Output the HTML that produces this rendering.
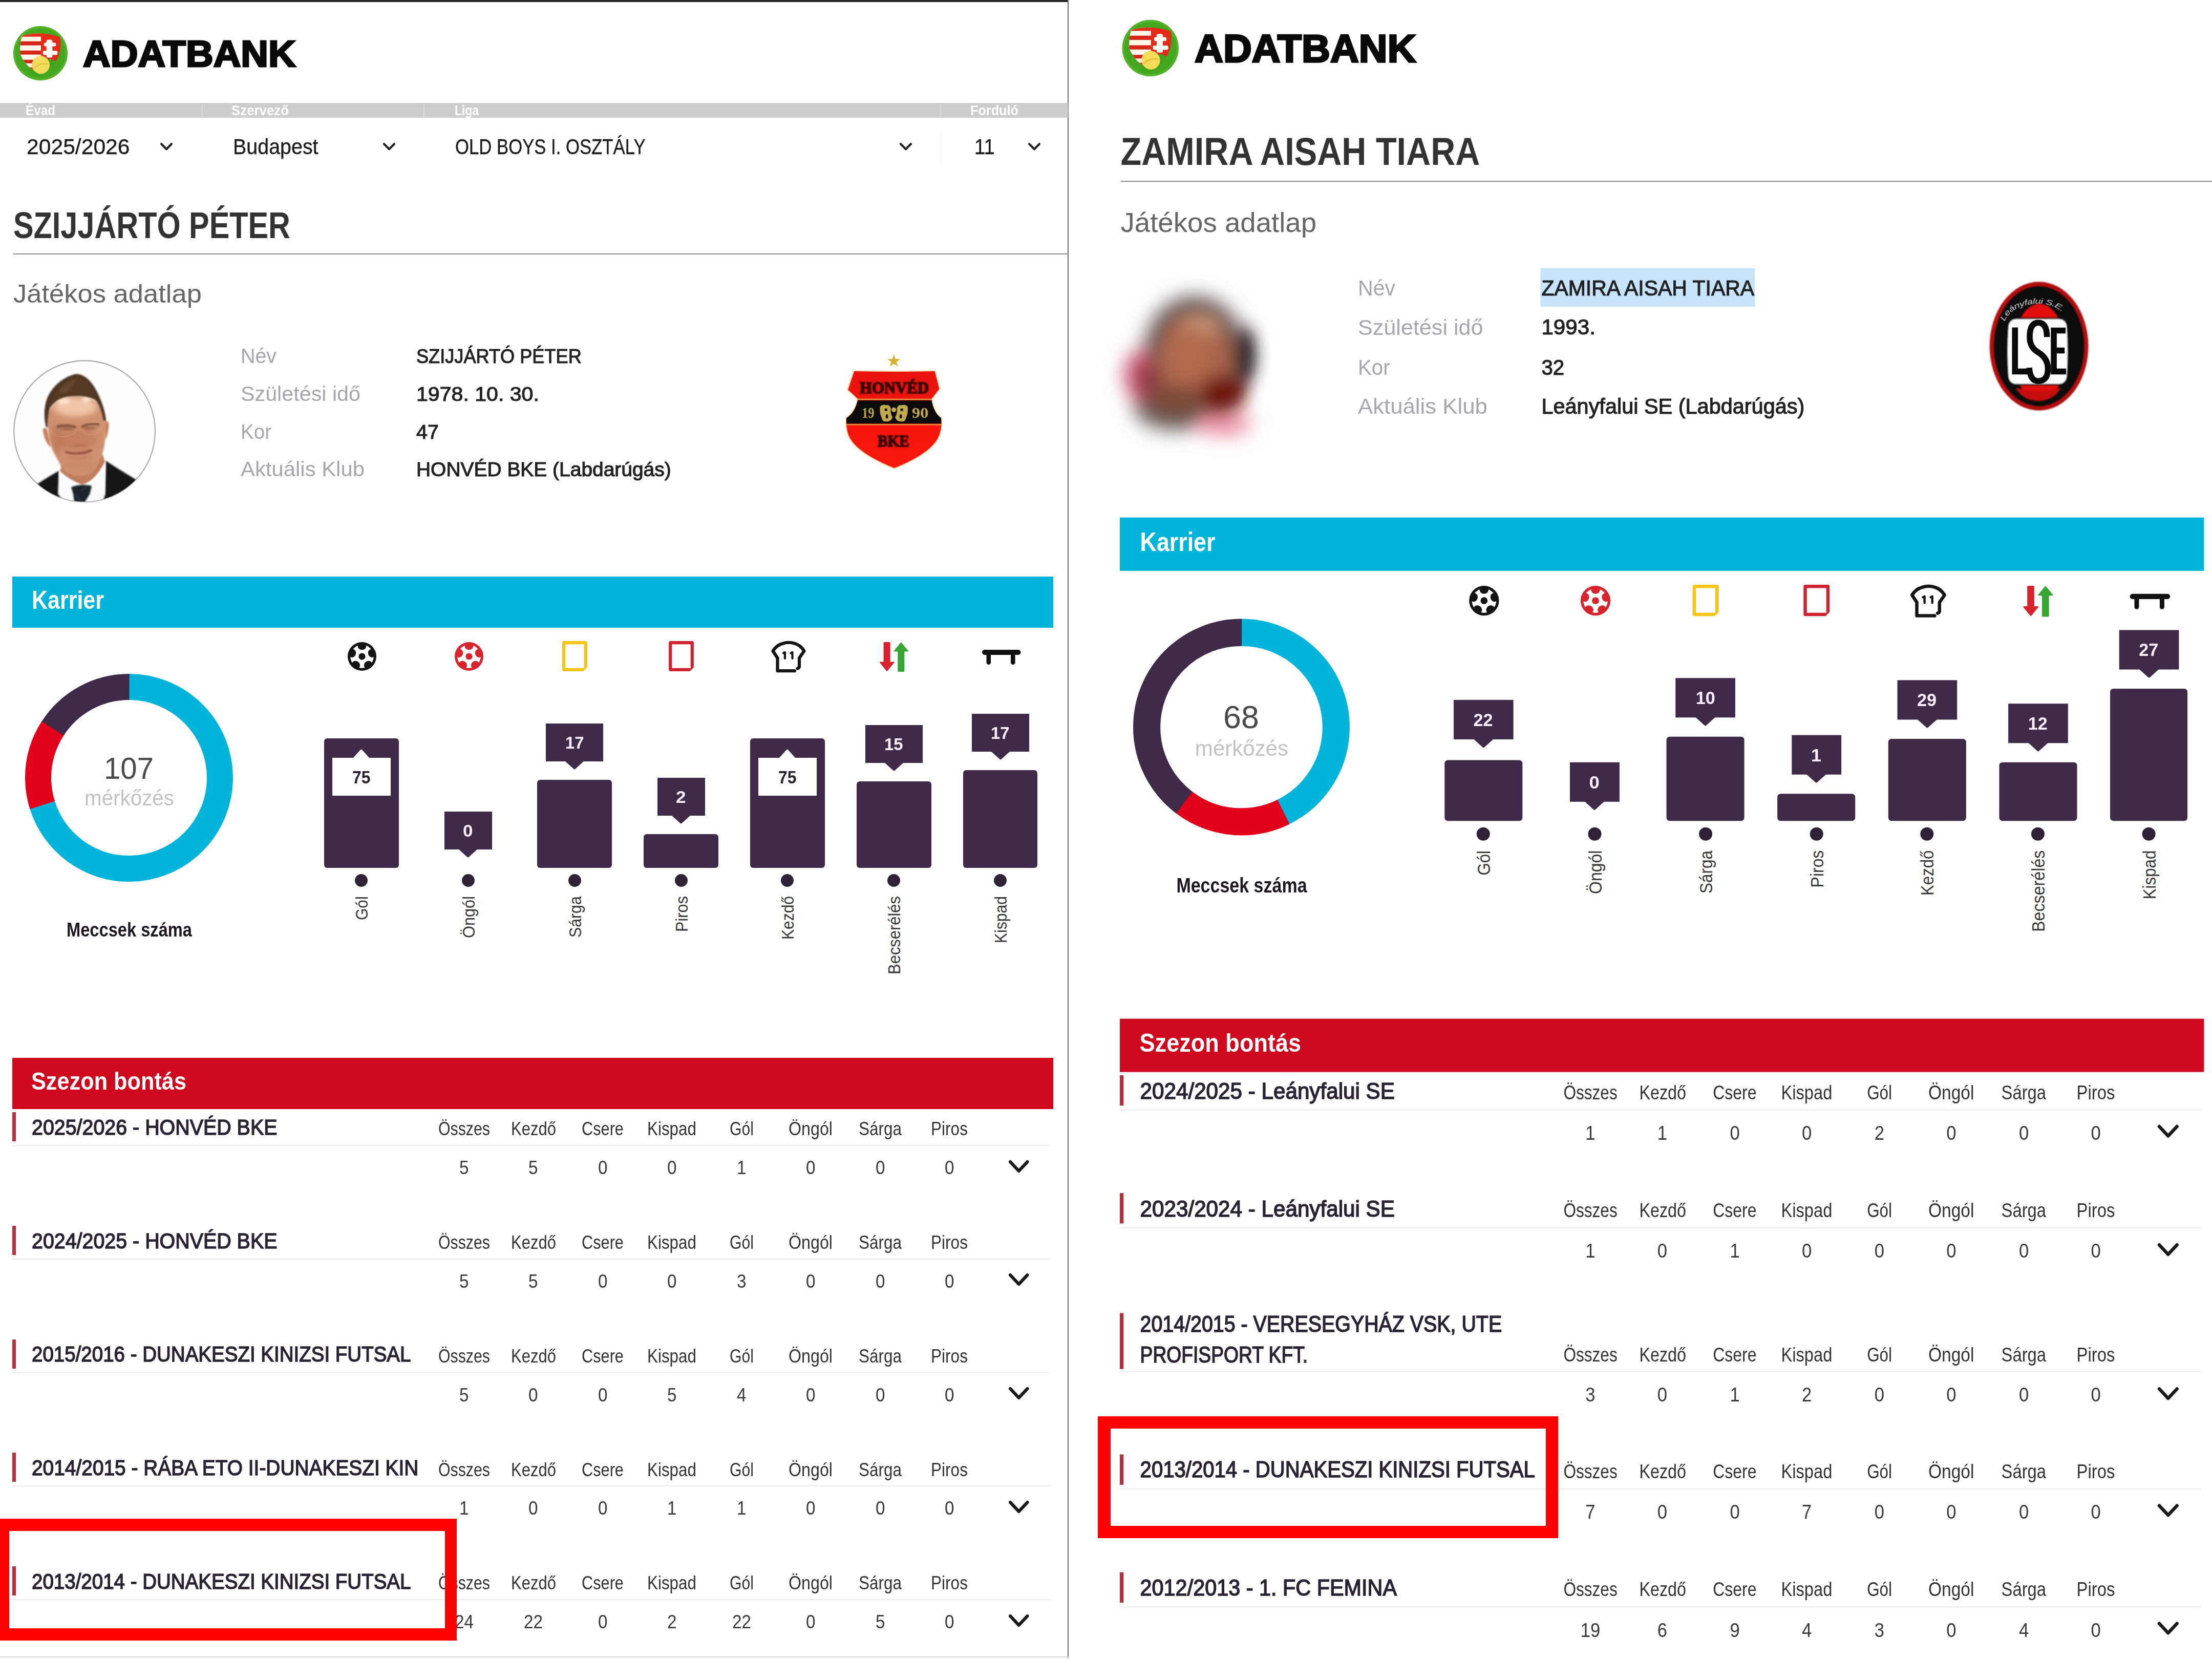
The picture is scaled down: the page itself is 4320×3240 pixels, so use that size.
<!DOCTYPE html>
<html><head><meta charset="utf-8"><title>Adatbank</title><style>
html,body{margin:0;padding:0;background:#fff}
body{width:4320px;height:3240px;position:relative;overflow:hidden;font-family:"Liberation Sans",sans-serif}
.t{position:absolute;white-space:nowrap;line-height:1;transform-origin:0 0;display:block}
.r{position:absolute}
.a{position:absolute;overflow:visible}
.g{position:absolute;left:0;top:0;width:4320px;height:3240px;transform-origin:0 0}
</style></head><body>
<div class="g" style="clip-path:inset(0 2233px 0 0)"><div class="r" style="left:0.00px;top:0.00px;width:2087.00px;height:3.50px;background:#262626;"></div><div class="r" style="left:2085.00px;top:0.00px;width:2.00px;height:3238.00px;background:#6a6a6a;"></div><div class="r" style="left:0.00px;top:3235.00px;width:2087.00px;height:2.00px;background:#d8d8d8;"></div><svg class="a" style="left:26.00px;top:50.50px" width="106.00" height="106.00" viewBox="0 0 100 100"><defs><clipPath id="mc79"><path d="M16,18 Q50,8 86,20 Q90,45 80,62 Q66,82 48,86 Q24,78 13,52 Q11,34 16,18 Z"/></clipPath></defs><circle cx="50" cy="50" r="50" fill="#44a720"/><circle cx="50" cy="50" r="47.5" fill="none" stroke="#63bf2c" stroke-width="3" opacity=".55"/><g clip-path="url(#mc79)"><rect x="0" y="0" width="100" height="100" fill="#e52a17"/><rect x="8" y="10" width="43" height="90" fill="#fff8ea"/><rect x="8" y="10" width="43" height="9.5" fill="#e52a17"/><rect x="8" y="28" width="43" height="7.5" fill="#d6261a"/><rect x="8" y="45" width="43" height="7.5" fill="#d6261a"/><rect x="8" y="62" width="43" height="6.5" fill="#d6261a"/><rect x="8" y="76" width="43" height="7" fill="#d6261a"/><rect x="61" y="25" width="11" height="33" rx="3" fill="#fffdf5"/><rect x="56.5" y="30.5" width="22" height="6.8" rx="2.5" fill="#fffdf5"/><rect x="54.5" y="45.5" width="27" height="7.5" rx="2.5" fill="#fffdf5"/><path d="M60,66 L68,60 L92,72 L92,100 L55,100 Z" fill="#3da41d"/></g><circle cx="50.5" cy="71.5" r="16.5" fill="#f3dc5a"/><path d="M38,78 Q50,66 64,70" stroke="#e2c23e" stroke-width="2.5" fill="none"/><path d="M27,80 Q40,96 58,92 Q46,90 36,80 Z" fill="#3da41d"/></svg><span class="t" style="left:161.60px;top:67.50px;font-size:73.11px;color:#0a0a0a;transform:scaleX(1.0170);font-weight:700;-webkit-text-stroke:3.20px #0a0a0a;">ADATBANK</span><div class="r" style="left:0.00px;top:201.00px;width:2086.00px;height:29.00px;background:#cdcdcd;"></div><div class="r" style="left:394.00px;top:203.00px;width:2.00px;height:27.00px;background:#dedede;"></div><div class="r" style="left:827.00px;top:203.00px;width:2.00px;height:27.00px;background:#dedede;"></div><div class="r" style="left:1836.00px;top:203.00px;width:2.00px;height:27.00px;background:#dedede;"></div><span class="t" style="left:50.00px;top:200.50px;font-size:28.34px;color:#fff;transform:scaleX(0.8561);font-weight:700;">Évad</span><span class="t" style="left:452.00px;top:200.50px;font-size:28.34px;color:#fff;transform:scaleX(0.9114);font-weight:700;">Szervező</span><span class="t" style="left:888.00px;top:200.50px;font-size:28.34px;color:#fff;transform:scaleX(0.8066);font-weight:700;">Liga</span><span class="t" style="left:1895.00px;top:200.50px;font-size:28.34px;color:#fff;transform:scaleX(0.8912);font-weight:700;">Forduló</span><span class="t" style="left:52.20px;top:265.37px;font-size:43.02px;color:#1c1c1c;transform:scaleX(0.9912);-webkit-text-stroke:0.40px #1c1c1c;">2025/2026</span><span class="t" style="left:455.20px;top:265.37px;font-size:43.02px;color:#1c1c1c;transform:scaleX(0.9164);-webkit-text-stroke:0.40px #1c1c1c;">Budapest</span><span class="t" style="left:889.20px;top:265.37px;font-size:43.02px;color:#1c1c1c;transform:scaleX(0.8067);-webkit-text-stroke:0.40px #1c1c1c;">OLD BOYS I. OSZTÁLY</span><span class="t" style="left:1903.20px;top:265.37px;font-size:43.02px;color:#1c1c1c;transform:scaleX(0.8866);-webkit-text-stroke:0.40px #1c1c1c;">11</span><svg class="a" style="left:313.00px;top:278.50px" width="24.00" height="14.50" viewBox="0 0 24.00 14.50"><path d="M2.15,2.15 L12.00,12.35 L21.85,2.15" fill="none" stroke="#222" stroke-width="4.30" stroke-linecap="round" stroke-linejoin="round"/></svg><svg class="a" style="left:748.00px;top:278.50px" width="24.00" height="14.50" viewBox="0 0 24.00 14.50"><path d="M2.15,2.15 L12.00,12.35 L21.85,2.15" fill="none" stroke="#222" stroke-width="4.30" stroke-linecap="round" stroke-linejoin="round"/></svg><svg class="a" style="left:1757.00px;top:278.50px" width="24.00" height="14.50" viewBox="0 0 24.00 14.50"><path d="M2.15,2.15 L12.00,12.35 L21.85,2.15" fill="none" stroke="#222" stroke-width="4.30" stroke-linecap="round" stroke-linejoin="round"/></svg><svg class="a" style="left:2008.00px;top:278.50px" width="24.00" height="14.50" viewBox="0 0 24.00 14.50"><path d="M2.15,2.15 L12.00,12.35 L21.85,2.15" fill="none" stroke="#222" stroke-width="4.30" stroke-linecap="round" stroke-linejoin="round"/></svg><div class="r" style="left:1837.00px;top:255.00px;width:1.50px;height:70.00px;background:#f6f6f6;"></div><div class="g" style="clip-path:inset(0 2234px 0 0)"><span class="t" style="left:26.00px;top:404.47px;font-size:72.68px;color:#333;transform:scaleX(0.8169);font-weight:700;">SZIJJÁRTÓ PÉTER</span><div class="r" style="left:26.00px;top:495.00px;width:4300.00px;height:2.00px;background:#8b8b95;"></div><span class="t" style="left:26.00px;top:549.33px;font-size:50.87px;color:#666;transform:scaleX(1.0326);">Játékos adatlap</span></div><svg class="a" style="left:10px;top:690px" width="310" height="310" viewBox="0 0 1659 1659"><defs><clipPath id="fc"><circle cx="830" cy="815" r="735"/></clipPath><filter id="fb" x="-20%" y="-20%" width="140%" height="140%"><feGaussianBlur stdDeviation="9"/></filter><filter id="fb2" x="-30%" y="-30%" width="160%" height="160%"><feGaussianBlur stdDeviation="28"/></filter><filter id="fb3" x="-30%" y="-30%" width="160%" height="160%"><feGaussianBlur stdDeviation="16"/></filter></defs><circle cx="830" cy="815" r="738" fill="#fefefe" stroke="#a6a6a6" stroke-width="11"/><g clip-path="url(#fc)"><path d="M555,1235 L640,1180 L1050,1120 L1060,1480 L1000,1600 L600,1600 Z" fill="#f7f9fb" filter="url(#fb)"/><path d="M330,1370 Q450,1290 562,1228 L552,1470 L640,1590 L300,1600 Z" fill="#131317" filter="url(#fb)"/><path d="M1052,1122 Q1200,1220 1370,1320 L1400,1600 L1000,1600 L1046,1480 Z" fill="#131317" filter="url(#fb)"/><path d="M600,1120 L1020,1060 L1045,1140 Q960,1330 800,1375 Q680,1330 575,1235 Z" fill="#bf7d5c" filter="url(#fb)"/><path d="M560,1232 Q660,1330 790,1372 L625,1500 L590,1480 Z" fill="#fbfcfd" filter="url(#fb)"/><path d="M1050,1125 Q960,1300 850,1368 L1040,1475 Z" fill="#fbfcfd" filter="url(#fb)"/><path d="M690,1398 Q790,1360 905,1385 L885,1470 L820,1575 L725,1575 L712,1470 Z" fill="#1a202a" filter="url(#fb)"/><path d="M735,1470 L800,1560 M790,1440 L850,1400" stroke="#2e3d4c" stroke-width="14" filter="url(#fb)"/><path d="M392,800 Q400,770 440,790 L480,980 Q440,960 410,880 Z" fill="#c98260" filter="url(#fb)"/><path d="M1035,720 Q1080,690 1085,740 Q1080,860 1040,910 Z" fill="#c98260" filter="url(#fb)"/><path d="M440,720 Q440,470 740,445 Q1030,450 1052,720 L1040,950 Q1010,1130 905,1255 Q780,1320 625,1235 Q520,1090 462,905 Z" fill="#cf9170" filter="url(#fb)"/><ellipse cx="735" cy="560" rx="230" ry="100" fill="#f0c4a6" filter="url(#fb2)"/><ellipse cx="610" cy="500" rx="70" ry="35" fill="#fde3cf" filter="url(#fb3)"/><ellipse cx="850" cy="480" rx="50" ry="35" fill="#fde3cf" filter="url(#fb3)"/><ellipse cx="760" cy="900" rx="200" ry="120" fill="#c27a5a" filter="url(#fb2)" opacity=".75"/><ellipse cx="770" cy="1160" rx="170" ry="80" fill="#c98a68" filter="url(#fb2)" opacity=".8"/><ellipse cx="545" cy="900" rx="60" ry="160" fill="#b86f50" filter="url(#fb2)" opacity=".6"/><path d="M428,775 C395,640 410,500 470,410 C530,310 630,240 740,215 C830,215 905,290 960,400 C1010,500 1045,600 1055,705 L1030,705 C1005,580 975,510 925,475 C830,435 730,440 640,452 C560,465 500,520 472,565 C448,640 445,700 445,770 Z" fill="#4d3424" filter="url(#fb)"/><path d="M470,520 C520,380 620,290 740,245 C830,250 900,330 945,420 C965,470 950,480 925,472 C830,432 730,438 640,450 C560,462 505,510 470,560 Z" fill="#553a28" filter="url(#fb)"/><path d="M560,400 Q650,290 760,260 Q700,330 640,420 Z" fill="#6e4c36" filter="url(#fb3)" opacity=".8"/><path d="M540,770 Q640,735 740,775 M800,770 Q880,725 985,745" stroke="#6a4030" stroke-width="26" fill="none" filter="url(#fb)" opacity=".75"/><path d="M590,800 Q650,780 705,800 M835,790 Q890,765 945,780" stroke="#5a3528" stroke-width="22" fill="none" filter="url(#fb3)" opacity=".7"/><path d="M470,800 Q500,880 620,870 Q720,860 745,800 Q780,790 800,800 Q830,860 920,850 Q1000,830 1010,760" stroke="#e8c0a8" stroke-width="7" fill="none" opacity=".3"/><path d="M700,960 Q770,985 840,950" stroke="#a86048" stroke-width="20" fill="none" filter="url(#fb3)" opacity=".7"/><path d="M630,1030 Q770,1075 905,1010" stroke="#8f4a3e" stroke-width="26" fill="none" filter="url(#fb)" opacity=".85"/><path d="M660,1085 Q770,1120 880,1070" stroke="#b87058" stroke-width="22" fill="none" filter="url(#fb3)" opacity=".6"/></g></svg><span class="t" style="left:470.00px;top:676.16px;font-size:39.97px;color:#a6a6ae;transform:scaleX(0.9848);">Név</span><span class="t" style="left:470.00px;top:749.66px;font-size:39.97px;color:#a6a6ae;transform:scaleX(1.0325);">Születési idő</span><span class="t" style="left:470.00px;top:824.16px;font-size:39.97px;color:#a6a6ae;transform:scaleX(0.9645);">Kor</span><span class="t" style="left:470.00px;top:897.16px;font-size:39.97px;color:#a6a6ae;transform:scaleX(1.0473);">Aktuális Klub</span><span class="t" style="left:813.05px;top:677.46px;font-size:38.37px;color:#222;transform:scaleX(0.9426);-webkit-text-stroke:1.10px #222;">SZIJJÁRTÓ PÉTER</span><span class="t" style="left:813.05px;top:750.96px;font-size:38.37px;color:#222;transform:scaleX(1.0708);-webkit-text-stroke:1.10px #222;">1978. 10. 30.</span><span class="t" style="left:813.05px;top:825.46px;font-size:38.37px;color:#222;transform:scaleX(1.0285);-webkit-text-stroke:1.10px #222;">47</span><span class="t" style="left:813.05px;top:898.46px;font-size:38.37px;color:#222;transform:scaleX(1.0150);-webkit-text-stroke:1.10px #222;">HONVÉD BKE (Labdarúgás)</span><svg class="a" style="left:1600px;top:670px" width="300" height="270" viewBox="0 0 1843 1659"><defs><clipPath id="hs"><path d="M420,338 Q900,350 1385,338 L1440,550 L1345,672 Q1372,840 1462,900 Q1475,1000 1440,1100 Q1370,1310 900,1500 Q430,1310 350,1100 Q318,1000 325,900 Q430,840 465,672 L345,560 Z"/></clipPath><filter id="hb" x="-10%" y="-10%" width="120%" height="120%"><feGaussianBlur stdDeviation="5"/></filter><linearGradient id="hg" x1="0" y1="0" x2="0" y2="1"><stop offset="0" stop-color="#e81410"/><stop offset=".5" stop-color="#f5130c"/><stop offset="1" stop-color="#fa1a10"/></linearGradient></defs><polygon points="895,135 915,190 972,192 927,227 943,282 895,250 847,282 863,227 818,192 875,190" fill="#d6b433"/><path d="M420,338 Q900,350 1385,338 L1440,550 L1345,672 Q1372,840 1462,900 Q1475,1000 1440,1100 Q1370,1310 900,1500 Q430,1310 350,1100 Q318,1000 325,900 Q430,840 465,672 L345,560 Z" fill="#f7a23a" stroke="#f9b85a" stroke-width="16" opacity=".85" filter="url(#hb)"/><g clip-path="url(#hs)"><rect x="300" y="320" width="1200" height="1200" fill="url(#hg)"/><rect x="300" y="690" width="1200" height="275" fill="#0d0b0b"/><rect x="300" y="668" width="1200" height="14" fill="#e9a24a"/><rect x="300" y="682" width="1200" height="10" fill="#8a1a10"/><rect x="300" y="972" width="1200" height="14" fill="#e9a24a"/><rect x="300" y="962" width="1200" height="10" fill="#8a1a10"/></g><g filter="url(#hb)"><text x="900" y="600" text-anchor="middle" font-family="Liberation Serif" font-weight="700" font-size="196" fill="#2a0707" stroke="#2a0707" stroke-width="10" textLength="830" lengthAdjust="spacingAndGlyphs">HONVÉD</text><text x="890" y="1240" text-anchor="middle" font-family="Liberation Serif" font-weight="700" font-size="196" fill="#2a0707" stroke="#2a0707" stroke-width="10" textLength="380" lengthAdjust="spacingAndGlyphs">BKE</text></g><text x="585" y="900" text-anchor="middle" font-family="Liberation Serif" font-weight="700" font-size="175" fill="#b9a446" textLength="150" lengthAdjust="spacingAndGlyphs">19</text><text x="1210" y="900" text-anchor="middle" font-family="Liberation Serif" font-weight="700" font-size="175" fill="#b9a446" textLength="200" lengthAdjust="spacingAndGlyphs">90</text><g fill="#bfa94a"><path d="M730,760 Q760,730 800,745 Q850,735 860,790 Q850,850 880,890 Q860,950 800,940 Q760,950 750,900 Q720,840 730,760 Z"/><path d="M1060,760 Q1030,730 990,745 Q940,735 930,790 Q940,850 910,890 Q930,950 990,940 Q1030,950 1040,900 Q1070,840 1060,760 Z"/><circle cx="895" cy="800" r="28"/></g><g fill="#0d0b0b"><circle cx="800" cy="800" r="16"/><circle cx="990" cy="800" r="16"/><ellipse cx="812" cy="880" rx="14" ry="26"/><ellipse cx="978" cy="880" rx="14" ry="26"/></g></svg><div class="r" style="left:24.00px;top:1126.00px;width:2033.00px;height:100.00px;background:#00b5d9;"></div><span class="t" style="left:62.00px;top:1147.04px;font-size:50.15px;color:#fff;transform:scaleX(0.8573);font-weight:700;">Karrier</span><svg class="a" style="left:679.00px;top:1254.00px" width="56.00" height="56.00" viewBox="-28 -28 56 56"><circle r="28" fill="#141414"/><circle r="22.8" fill="#fff"/><ellipse cx="-11.93" cy="16.42" rx="8.3" ry="7.4" transform="rotate(216.0 -11.93 16.42)" fill="#141414"/><ellipse cx="-19.31" cy="-6.27" rx="8.3" ry="7.4" transform="rotate(288.0 -19.31 -6.27)" fill="#141414"/><ellipse cx="-0.00" cy="-20.30" rx="8.3" ry="7.4" transform="rotate(360.0 -0.00 -20.30)" fill="#141414"/><ellipse cx="19.31" cy="-6.27" rx="8.3" ry="7.4" transform="rotate(432.0 19.31 -6.27)" fill="#141414"/><ellipse cx="11.93" cy="16.42" rx="8.3" ry="7.4" transform="rotate(504.0 11.93 16.42)" fill="#141414"/><circle r="6.6" fill="#141414"/></svg><svg class="a" style="left:888.00px;top:1254.00px" width="56.00" height="56.00" viewBox="-28 -28 56 56"><circle r="28" fill="#d9232d"/><circle r="22.8" fill="#fff"/><ellipse cx="-11.93" cy="16.42" rx="8.3" ry="7.4" transform="rotate(216.0 -11.93 16.42)" fill="#d9232d"/><ellipse cx="-19.31" cy="-6.27" rx="8.3" ry="7.4" transform="rotate(288.0 -19.31 -6.27)" fill="#d9232d"/><ellipse cx="-0.00" cy="-20.30" rx="8.3" ry="7.4" transform="rotate(360.0 -0.00 -20.30)" fill="#d9232d"/><ellipse cx="19.31" cy="-6.27" rx="8.3" ry="7.4" transform="rotate(432.0 19.31 -6.27)" fill="#d9232d"/><ellipse cx="11.93" cy="16.42" rx="8.3" ry="7.4" transform="rotate(504.0 11.93 16.42)" fill="#d9232d"/><circle r="6.6" fill="#d9232d"/></svg><svg class="a" style="left:1098.00px;top:1252.00px" width="49" height="59" viewBox="0 0 49 59"><path d="M3.2,3.2 H45.8 V50 M40,55.8 H3.2 V3.2" fill="none" stroke="#f6c414" stroke-width="6.2" stroke-linejoin="round" stroke-linecap="round"/><path d="M45.8,48 V52 L42,55.8 H38" fill="none" stroke="#f6c414" stroke-width="3.5" stroke-linecap="round" stroke-linejoin="round"/></svg><svg class="a" style="left:1305.50px;top:1252.00px" width="49" height="59" viewBox="0 0 49 59"><path d="M3.2,3.2 H45.8 V50 M40,55.8 H3.2 V3.2" fill="none" stroke="#d3222f" stroke-width="6.2" stroke-linejoin="round" stroke-linecap="round"/><path d="M45.8,48 V52 L42,55.8 H38" fill="none" stroke="#d3222f" stroke-width="3.5" stroke-linecap="round" stroke-linejoin="round"/></svg><svg class="a" style="left:1506.00px;top:1252.00px" width="68" height="62" viewBox="0 0 68 62"><path d="M12.5,58 V33 L3.5,19.5 Q10,8.5 22,5 Q34.5,0.5 47,5 Q58,8.5 64.5,19.5 L55,33 V49 Q55,52.5 51.5,53.5 M12.5,58.2 H46" fill="none" stroke="#151515" stroke-width="6.2" stroke-linejoin="round" stroke-linecap="round"/><path d="M24,23.5 L27,22 V34 M38.5,23.5 L41.5,22 V34" fill="none" stroke="#151515" stroke-width="4.2" stroke-linecap="round" stroke-linejoin="round"/></svg><svg class="a" style="left:1717.60px;top:1254.00px" width="56" height="58" viewBox="0 0 56 58"><path d="M7.6,1.5 Q7.6,0 9.1,0 H19.1 Q20.6,0 20.6,1.5 V38.5 H27.2 Q29.5,38.5 28,40.5 L15.4,56 Q14.2,57.4 13,56 L0.5,40.5 Q-1,38.5 1.3,38.5 H7.6 Z" fill="#d9202b"/><path d="M35.3,56.5 Q35.3,58 36.8,58 H46.8 Q48.3,58 48.3,56.5 V18.5 H54.5 Q56.8,18.5 55.3,16.6 L43,1.5 Q41.8,0 40.6,1.5 L28.3,16.6 Q26.8,18.5 29.1,18.5 H35.3 Z" fill="#36a632"/></svg><svg class="a" style="left:1917.80px;top:1268.50px" width="76" height="30" viewBox="0 0 76 30"><rect x="0" y="0" width="75.5" height="10" rx="5" fill="#111"/><rect x="8.5" y="3" width="8.6" height="26" rx="4.3" fill="#111"/><rect x="56" y="3" width="8.6" height="26" rx="4.3" fill="#111"/></svg><svg class="a" style="left:42.00px;top:1309.00px" width="420" height="420" viewBox="-210 -210 420 420"><g transform="rotate(-90)"><circle r="177.50" fill="none" stroke="#00b5d9" stroke-width="51" stroke-dasharray="782.328 332.937" stroke-dashoffset="0.000"/><circle r="177.50" fill="none" stroke="#e2001a" stroke-width="51" stroke-dasharray="156.946 958.320" stroke-dashoffset="-781.728"/><circle r="177.50" fill="none" stroke="#3f2a4a" stroke-width="51" stroke-dasharray="177.792 937.474" stroke-dashoffset="-938.074"/></g></svg><span class="t" style="left:202.50px;top:1470.54px;font-size:59.59px;color:#4a4a4a;transform:scaleX(0.9755);">107</span><span class="t" style="left:164.50px;top:1537.68px;font-size:41.72px;color:#c2c2c2;transform:scaleX(0.9678);">mérkőzés</span><span class="t" style="left:129.50px;top:1796.89px;font-size:38.52px;color:#1e1622;transform:scaleX(0.8475);font-weight:700;">Meccsek száma</span><div class="r" style="left:633.00px;top:1442.00px;width:145.50px;height:253.00px;background:#3f2a4a;border-radius:6px;"></div><div class="r" style="left:648.70px;top:1480.00px;width:114.00px;height:74.00px;background:#fff;"></div><svg class="a" style="left:689.20px;top:1463.00px" width="33" height="18" viewBox="0 0 33 18"><path d="M0,18 H33 L18,1.3 Q16.5,0 15,1.3 Z" fill="#fff"/></svg><span class="t" style="left:687.95px;top:1501.21px;font-size:34.59px;color:#2a2030;transform:scaleX(0.9226);font-weight:700;">75</span><div class="r" style="left:693.20px;top:1706.80px;width:25px;height:25px;border-radius:50%;background:#2f2136"></div><span class="t" style="left:718.20px;top:1768.56px;font-size:32.99px;color:#383838;transform-origin:0 27.94px;transform:rotate(-90deg) scaleX(0.9056);">Gól</span><div class="r" style="left:867.50px;top:1585.00px;width:93.00px;height:74.00px;background:#3f2a4a;"></div><svg class="a" style="left:895.00px;top:1658.00px" width="38" height="17" viewBox="0 0 38 17"><path d="M0,0 H38 L20.5,15.8 Q19,17 17.5,15.8 Z" fill="#3f2a4a"/></svg><span class="t" style="left:904.25px;top:1606.19px;font-size:33.43px;color:#fbeefd;transform:scaleX(1.0488);font-weight:700;">0</span><div class="r" style="left:901.50px;top:1706.80px;width:25px;height:25px;border-radius:50%;background:#2f2136"></div><span class="t" style="left:926.50px;top:1804.06px;font-size:32.99px;color:#383838;transform-origin:0 27.94px;transform:rotate(-90deg) scaleX(0.9313);">Öngól</span><div class="r" style="left:1049.30px;top:1522.50px;width:145.50px;height:172.50px;background:#3f2a4a;border-radius:6px;"></div><div class="r" style="left:1066.00px;top:1412.50px;width:112.00px;height:74.00px;background:#3f2a4a;"></div><svg class="a" style="left:1103.00px;top:1485.50px" width="38" height="17" viewBox="0 0 38 17"><path d="M0,0 H38 L20.5,15.8 Q19,17 17.5,15.8 Z" fill="#3f2a4a"/></svg><span class="t" style="left:1103.75px;top:1433.69px;font-size:33.43px;color:#fbeefd;transform:scaleX(0.9815);font-weight:700;">17</span><div class="r" style="left:1109.50px;top:1706.80px;width:25px;height:25px;border-radius:50%;background:#2f2136"></div><span class="t" style="left:1134.50px;top:1802.76px;font-size:32.99px;color:#383838;transform-origin:0 27.94px;transform:rotate(-90deg) scaleX(0.9165);">Sárga</span><div class="r" style="left:1257.30px;top:1629.00px;width:145.50px;height:66.00px;background:#3f2a4a;border-radius:6px;"></div><div class="r" style="left:1283.50px;top:1519.00px;width:93.00px;height:74.00px;background:#3f2a4a;"></div><svg class="a" style="left:1311.00px;top:1592.00px" width="38" height="17" viewBox="0 0 38 17"><path d="M0,0 H38 L20.5,15.8 Q19,17 17.5,15.8 Z" fill="#3f2a4a"/></svg><span class="t" style="left:1320.25px;top:1540.19px;font-size:33.43px;color:#fbeefd;transform:scaleX(1.0488);font-weight:700;">2</span><div class="r" style="left:1317.50px;top:1706.80px;width:25px;height:25px;border-radius:50%;background:#2f2136"></div><span class="t" style="left:1342.50px;top:1792.06px;font-size:32.99px;color:#383838;transform-origin:0 27.94px;transform:rotate(-90deg) scaleX(0.9311);">Piros</span><div class="r" style="left:1465.00px;top:1442.00px;width:145.50px;height:253.00px;background:#3f2a4a;border-radius:6px;"></div><div class="r" style="left:1480.70px;top:1480.00px;width:114.00px;height:74.00px;background:#fff;"></div><svg class="a" style="left:1521.20px;top:1463.00px" width="33" height="18" viewBox="0 0 33 18"><path d="M0,18 H33 L18,1.3 Q16.5,0 15,1.3 Z" fill="#fff"/></svg><span class="t" style="left:1519.95px;top:1501.21px;font-size:34.59px;color:#2a2030;transform:scaleX(0.9226);font-weight:700;">75</span><div class="r" style="left:1525.20px;top:1706.80px;width:25px;height:25px;border-radius:50%;background:#2f2136"></div><span class="t" style="left:1550.20px;top:1807.06px;font-size:32.99px;color:#383838;transform-origin:0 27.94px;transform:rotate(-90deg) scaleX(0.9085);">Kezdő</span><div class="r" style="left:1673.00px;top:1526.00px;width:145.50px;height:169.00px;background:#3f2a4a;border-radius:6px;"></div><div class="r" style="left:1689.70px;top:1416.00px;width:112.00px;height:74.00px;background:#3f2a4a;"></div><svg class="a" style="left:1726.70px;top:1489.00px" width="38" height="17" viewBox="0 0 38 17"><path d="M0,0 H38 L20.5,15.8 Q19,17 17.5,15.8 Z" fill="#3f2a4a"/></svg><span class="t" style="left:1727.45px;top:1437.19px;font-size:33.43px;color:#fbeefd;transform:scaleX(0.9815);font-weight:700;">15</span><div class="r" style="left:1733.20px;top:1706.80px;width:25px;height:25px;border-radius:50%;background:#2f2136"></div><span class="t" style="left:1758.20px;top:1875.06px;font-size:32.99px;color:#383838;transform-origin:0 27.94px;transform:rotate(-90deg) scaleX(0.9374);">Becserélés</span><div class="r" style="left:1880.80px;top:1504.00px;width:145.50px;height:191.00px;background:#3f2a4a;border-radius:6px;"></div><div class="r" style="left:1897.50px;top:1394.00px;width:112.00px;height:74.00px;background:#3f2a4a;"></div><svg class="a" style="left:1934.50px;top:1467.00px" width="38" height="17" viewBox="0 0 38 17"><path d="M0,0 H38 L20.5,15.8 Q19,17 17.5,15.8 Z" fill="#3f2a4a"/></svg><span class="t" style="left:1935.25px;top:1415.19px;font-size:33.43px;color:#fbeefd;transform:scaleX(0.9815);font-weight:700;">17</span><div class="r" style="left:1941.00px;top:1706.80px;width:25px;height:25px;border-radius:50%;background:#2f2136"></div><span class="t" style="left:1966.00px;top:1814.06px;font-size:32.99px;color:#383838;transform-origin:0 27.94px;transform:rotate(-90deg) scaleX(0.9119);">Kispad</span><div class="r" style="left:24.00px;top:2066.00px;width:2033.00px;height:100.00px;background:#cf0a1f;"></div><span class="t" style="left:61.00px;top:2087.89px;font-size:47.97px;color:#fff;transform:scaleX(0.9023);font-weight:700;">Szezon bontás</span><div class="r" style="left:24.00px;top:2172.00px;width:6.50px;height:57.00px;background:#b7303c;"></div><span class="t" style="left:61.75px;top:2179.94px;font-size:42.88px;color:#2b2233;transform:scaleX(0.9186);-webkit-text-stroke:1.50px #2b2233;">2025/2026 - HONVÉD BKE</span><span class="t" style="left:855.50px;top:2186.42px;font-size:37.06px;color:#333;transform:scaleX(0.8173);">Összes</span><span class="t" style="left:997.50px;top:2186.42px;font-size:37.06px;color:#333;transform:scaleX(0.8373);">Kezdő</span><span class="t" style="left:1136.00px;top:2186.42px;font-size:37.06px;color:#333;transform:scaleX(0.8293);">Csere</span><span class="t" style="left:1264.00px;top:2186.42px;font-size:37.06px;color:#333;transform:scaleX(0.8471);">Kispad</span><span class="t" style="left:1424.50px;top:2186.42px;font-size:37.06px;color:#333;transform:scaleX(0.8149);">Gól</span><span class="t" style="left:1540.00px;top:2186.42px;font-size:37.06px;color:#333;transform:scaleX(0.8695);">Öngól</span><span class="t" style="left:1677.00px;top:2186.42px;font-size:37.06px;color:#333;transform:scaleX(0.8493);">Sárga</span><span class="t" style="left:1818.00px;top:2186.42px;font-size:37.06px;color:#333;transform:scaleX(0.8526);">Piros</span><div class="r" style="left:24.00px;top:2236.00px;width:2027.00px;height:2.00px;background:#ececee;"></div><span class="t" style="left:896.75px;top:2262.00px;font-size:37.79px;color:#3a3a3a;transform:scaleX(0.8800);">5</span><span class="t" style="left:1032.25px;top:2262.00px;font-size:37.79px;color:#3a3a3a;transform:scaleX(0.8800);">5</span><span class="t" style="left:1167.75px;top:2262.00px;font-size:37.79px;color:#3a3a3a;transform:scaleX(0.8800);">0</span><span class="t" style="left:1302.75px;top:2262.00px;font-size:37.79px;color:#3a3a3a;transform:scaleX(0.8800);">0</span><span class="t" style="left:1438.75px;top:2262.00px;font-size:37.79px;color:#3a3a3a;transform:scaleX(0.8800);">1</span><span class="t" style="left:1573.75px;top:2262.00px;font-size:37.79px;color:#3a3a3a;transform:scaleX(0.8800);">0</span><span class="t" style="left:1709.75px;top:2262.00px;font-size:37.79px;color:#3a3a3a;transform:scaleX(0.8800);">0</span><span class="t" style="left:1844.75px;top:2262.00px;font-size:37.79px;color:#3a3a3a;transform:scaleX(0.8800);">0</span><svg class="a" style="left:1970.00px;top:2265.50px" width="39.50" height="24.00" viewBox="0 0 39.50 24.00"><path d="M3.10,3.10 L19.75,20.90 L36.40,3.10" fill="none" stroke="#1a1a1a" stroke-width="6.20" stroke-linecap="round" stroke-linejoin="round"/></svg><div class="r" style="left:24.00px;top:2393.80px;width:6.50px;height:57.00px;background:#b7303c;"></div><span class="t" style="left:61.75px;top:2401.74px;font-size:42.88px;color:#2b2233;transform:scaleX(0.9186);-webkit-text-stroke:1.50px #2b2233;">2024/2025 - HONVÉD BKE</span><span class="t" style="left:855.50px;top:2408.22px;font-size:37.06px;color:#333;transform:scaleX(0.8173);">Összes</span><span class="t" style="left:997.50px;top:2408.22px;font-size:37.06px;color:#333;transform:scaleX(0.8373);">Kezdő</span><span class="t" style="left:1136.00px;top:2408.22px;font-size:37.06px;color:#333;transform:scaleX(0.8293);">Csere</span><span class="t" style="left:1264.00px;top:2408.22px;font-size:37.06px;color:#333;transform:scaleX(0.8471);">Kispad</span><span class="t" style="left:1424.50px;top:2408.22px;font-size:37.06px;color:#333;transform:scaleX(0.8149);">Gól</span><span class="t" style="left:1540.00px;top:2408.22px;font-size:37.06px;color:#333;transform:scaleX(0.8695);">Öngól</span><span class="t" style="left:1677.00px;top:2408.22px;font-size:37.06px;color:#333;transform:scaleX(0.8493);">Sárga</span><span class="t" style="left:1818.00px;top:2408.22px;font-size:37.06px;color:#333;transform:scaleX(0.8526);">Piros</span><div class="r" style="left:24.00px;top:2457.80px;width:2027.00px;height:2.00px;background:#ececee;"></div><span class="t" style="left:896.75px;top:2483.80px;font-size:37.79px;color:#3a3a3a;transform:scaleX(0.8800);">5</span><span class="t" style="left:1032.25px;top:2483.80px;font-size:37.79px;color:#3a3a3a;transform:scaleX(0.8800);">5</span><span class="t" style="left:1167.75px;top:2483.80px;font-size:37.79px;color:#3a3a3a;transform:scaleX(0.8800);">0</span><span class="t" style="left:1302.75px;top:2483.80px;font-size:37.79px;color:#3a3a3a;transform:scaleX(0.8800);">0</span><span class="t" style="left:1438.75px;top:2483.80px;font-size:37.79px;color:#3a3a3a;transform:scaleX(0.8800);">3</span><span class="t" style="left:1573.75px;top:2483.80px;font-size:37.79px;color:#3a3a3a;transform:scaleX(0.8800);">0</span><span class="t" style="left:1709.75px;top:2483.80px;font-size:37.79px;color:#3a3a3a;transform:scaleX(0.8800);">0</span><span class="t" style="left:1844.75px;top:2483.80px;font-size:37.79px;color:#3a3a3a;transform:scaleX(0.8800);">0</span><svg class="a" style="left:1970.00px;top:2487.30px" width="39.50" height="24.00" viewBox="0 0 39.50 24.00"><path d="M3.10,3.10 L19.75,20.90 L36.40,3.10" fill="none" stroke="#1a1a1a" stroke-width="6.20" stroke-linecap="round" stroke-linejoin="round"/></svg><div class="r" style="left:24.00px;top:2615.50px;width:6.50px;height:57.00px;background:#b7303c;"></div><span class="t" style="left:61.75px;top:2623.44px;font-size:42.88px;color:#2b2233;transform:scaleX(0.8981);-webkit-text-stroke:1.50px #2b2233;">2015/2016 - DUNAKESZI KINIZSI FUTSAL</span><span class="t" style="left:855.50px;top:2629.92px;font-size:37.06px;color:#333;transform:scaleX(0.8173);">Összes</span><span class="t" style="left:997.50px;top:2629.92px;font-size:37.06px;color:#333;transform:scaleX(0.8373);">Kezdő</span><span class="t" style="left:1136.00px;top:2629.92px;font-size:37.06px;color:#333;transform:scaleX(0.8293);">Csere</span><span class="t" style="left:1264.00px;top:2629.92px;font-size:37.06px;color:#333;transform:scaleX(0.8471);">Kispad</span><span class="t" style="left:1424.50px;top:2629.92px;font-size:37.06px;color:#333;transform:scaleX(0.8149);">Gól</span><span class="t" style="left:1540.00px;top:2629.92px;font-size:37.06px;color:#333;transform:scaleX(0.8695);">Öngól</span><span class="t" style="left:1677.00px;top:2629.92px;font-size:37.06px;color:#333;transform:scaleX(0.8493);">Sárga</span><span class="t" style="left:1818.00px;top:2629.92px;font-size:37.06px;color:#333;transform:scaleX(0.8526);">Piros</span><div class="r" style="left:24.00px;top:2679.50px;width:2027.00px;height:2.00px;background:#ececee;"></div><span class="t" style="left:896.75px;top:2705.50px;font-size:37.79px;color:#3a3a3a;transform:scaleX(0.8800);">5</span><span class="t" style="left:1032.25px;top:2705.50px;font-size:37.79px;color:#3a3a3a;transform:scaleX(0.8800);">0</span><span class="t" style="left:1167.75px;top:2705.50px;font-size:37.79px;color:#3a3a3a;transform:scaleX(0.8800);">0</span><span class="t" style="left:1302.75px;top:2705.50px;font-size:37.79px;color:#3a3a3a;transform:scaleX(0.8800);">5</span><span class="t" style="left:1438.75px;top:2705.50px;font-size:37.79px;color:#3a3a3a;transform:scaleX(0.8800);">4</span><span class="t" style="left:1573.75px;top:2705.50px;font-size:37.79px;color:#3a3a3a;transform:scaleX(0.8800);">0</span><span class="t" style="left:1709.75px;top:2705.50px;font-size:37.79px;color:#3a3a3a;transform:scaleX(0.8800);">0</span><span class="t" style="left:1844.75px;top:2705.50px;font-size:37.79px;color:#3a3a3a;transform:scaleX(0.8800);">0</span><svg class="a" style="left:1970.00px;top:2709.00px" width="39.50" height="24.00" viewBox="0 0 39.50 24.00"><path d="M3.10,3.10 L19.75,20.90 L36.40,3.10" fill="none" stroke="#1a1a1a" stroke-width="6.20" stroke-linecap="round" stroke-linejoin="round"/></svg><div class="r" style="left:24.00px;top:2837.30px;width:6.50px;height:57.00px;background:#b7303c;"></div><span class="t" style="left:61.75px;top:2845.24px;font-size:42.88px;color:#2b2233;transform:scaleX(0.9066);-webkit-text-stroke:1.50px #2b2233;">2014/2015 - RÁBA ETO II-DUNAKESZI KIN</span><span class="t" style="left:855.50px;top:2851.72px;font-size:37.06px;color:#333;transform:scaleX(0.8173);">Összes</span><span class="t" style="left:997.50px;top:2851.72px;font-size:37.06px;color:#333;transform:scaleX(0.8373);">Kezdő</span><span class="t" style="left:1136.00px;top:2851.72px;font-size:37.06px;color:#333;transform:scaleX(0.8293);">Csere</span><span class="t" style="left:1264.00px;top:2851.72px;font-size:37.06px;color:#333;transform:scaleX(0.8471);">Kispad</span><span class="t" style="left:1424.50px;top:2851.72px;font-size:37.06px;color:#333;transform:scaleX(0.8149);">Gól</span><span class="t" style="left:1540.00px;top:2851.72px;font-size:37.06px;color:#333;transform:scaleX(0.8695);">Öngól</span><span class="t" style="left:1677.00px;top:2851.72px;font-size:37.06px;color:#333;transform:scaleX(0.8493);">Sárga</span><span class="t" style="left:1818.00px;top:2851.72px;font-size:37.06px;color:#333;transform:scaleX(0.8526);">Piros</span><div class="r" style="left:24.00px;top:2901.30px;width:2027.00px;height:2.00px;background:#ececee;"></div><span class="t" style="left:896.75px;top:2927.30px;font-size:37.79px;color:#3a3a3a;transform:scaleX(0.8800);">1</span><span class="t" style="left:1032.25px;top:2927.30px;font-size:37.79px;color:#3a3a3a;transform:scaleX(0.8800);">0</span><span class="t" style="left:1167.75px;top:2927.30px;font-size:37.79px;color:#3a3a3a;transform:scaleX(0.8800);">0</span><span class="t" style="left:1302.75px;top:2927.30px;font-size:37.79px;color:#3a3a3a;transform:scaleX(0.8800);">1</span><span class="t" style="left:1438.75px;top:2927.30px;font-size:37.79px;color:#3a3a3a;transform:scaleX(0.8800);">1</span><span class="t" style="left:1573.75px;top:2927.30px;font-size:37.79px;color:#3a3a3a;transform:scaleX(0.8800);">0</span><span class="t" style="left:1709.75px;top:2927.30px;font-size:37.79px;color:#3a3a3a;transform:scaleX(0.8800);">0</span><span class="t" style="left:1844.75px;top:2927.30px;font-size:37.79px;color:#3a3a3a;transform:scaleX(0.8800);">0</span><svg class="a" style="left:1970.00px;top:2930.80px" width="39.50" height="24.00" viewBox="0 0 39.50 24.00"><path d="M3.10,3.10 L19.75,20.90 L36.40,3.10" fill="none" stroke="#1a1a1a" stroke-width="6.20" stroke-linecap="round" stroke-linejoin="round"/></svg><div class="r" style="left:24.00px;top:3059.00px;width:6.50px;height:57.00px;background:#b7303c;"></div><span class="t" style="left:61.75px;top:3066.94px;font-size:42.88px;color:#2b2233;transform:scaleX(0.8981);-webkit-text-stroke:1.50px #2b2233;">2013/2014 - DUNAKESZI KINIZSI FUTSAL</span><span class="t" style="left:855.50px;top:3073.42px;font-size:37.06px;color:#333;transform:scaleX(0.8173);">Összes</span><span class="t" style="left:997.50px;top:3073.42px;font-size:37.06px;color:#333;transform:scaleX(0.8373);">Kezdő</span><span class="t" style="left:1136.00px;top:3073.42px;font-size:37.06px;color:#333;transform:scaleX(0.8293);">Csere</span><span class="t" style="left:1264.00px;top:3073.42px;font-size:37.06px;color:#333;transform:scaleX(0.8471);">Kispad</span><span class="t" style="left:1424.50px;top:3073.42px;font-size:37.06px;color:#333;transform:scaleX(0.8149);">Gól</span><span class="t" style="left:1540.00px;top:3073.42px;font-size:37.06px;color:#333;transform:scaleX(0.8695);">Öngól</span><span class="t" style="left:1677.00px;top:3073.42px;font-size:37.06px;color:#333;transform:scaleX(0.8493);">Sárga</span><span class="t" style="left:1818.00px;top:3073.42px;font-size:37.06px;color:#333;transform:scaleX(0.8526);">Piros</span><div class="r" style="left:24.00px;top:3123.00px;width:2027.00px;height:2.00px;background:#ececee;"></div><span class="t" style="left:887.50px;top:3149.00px;font-size:37.79px;color:#3a3a3a;transform:scaleX(0.8800);">24</span><span class="t" style="left:1023.00px;top:3149.00px;font-size:37.79px;color:#3a3a3a;transform:scaleX(0.8800);">22</span><span class="t" style="left:1167.75px;top:3149.00px;font-size:37.79px;color:#3a3a3a;transform:scaleX(0.8800);">0</span><span class="t" style="left:1302.75px;top:3149.00px;font-size:37.79px;color:#3a3a3a;transform:scaleX(0.8800);">2</span><span class="t" style="left:1429.50px;top:3149.00px;font-size:37.79px;color:#3a3a3a;transform:scaleX(0.8800);">22</span><span class="t" style="left:1573.75px;top:3149.00px;font-size:37.79px;color:#3a3a3a;transform:scaleX(0.8800);">0</span><span class="t" style="left:1709.75px;top:3149.00px;font-size:37.79px;color:#3a3a3a;transform:scaleX(0.8800);">5</span><span class="t" style="left:1844.75px;top:3149.00px;font-size:37.79px;color:#3a3a3a;transform:scaleX(0.8800);">0</span><svg class="a" style="left:1970.00px;top:3152.50px" width="39.50" height="24.00" viewBox="0 0 39.50 24.00"><path d="M3.10,3.10 L19.75,20.90 L36.40,3.10" fill="none" stroke="#1a1a1a" stroke-width="6.20" stroke-linecap="round" stroke-linejoin="round"/></svg></div>
<div class="r" style="left:0;top:2966px;width:892px;height:237.5px;box-sizing:border-box;border:24px solid #ff0000;border-left-width:18px;border-right-width:23px"></div>
<div class="g" style="transform:translate(2164.60px,-14.24px) scale(1.04000)"><svg class="a" style="left:26.00px;top:50.50px" width="106.00" height="106.00" viewBox="0 0 100 100"><defs><clipPath id="mc79"><path d="M16,18 Q50,8 86,20 Q90,45 80,62 Q66,82 48,86 Q24,78 13,52 Q11,34 16,18 Z"/></clipPath></defs><circle cx="50" cy="50" r="50" fill="#44a720"/><circle cx="50" cy="50" r="47.5" fill="none" stroke="#63bf2c" stroke-width="3" opacity=".55"/><g clip-path="url(#mc79)"><rect x="0" y="0" width="100" height="100" fill="#e52a17"/><rect x="8" y="10" width="43" height="90" fill="#fff8ea"/><rect x="8" y="10" width="43" height="9.5" fill="#e52a17"/><rect x="8" y="28" width="43" height="7.5" fill="#d6261a"/><rect x="8" y="45" width="43" height="7.5" fill="#d6261a"/><rect x="8" y="62" width="43" height="6.5" fill="#d6261a"/><rect x="8" y="76" width="43" height="7" fill="#d6261a"/><rect x="61" y="25" width="11" height="33" rx="3" fill="#fffdf5"/><rect x="56.5" y="30.5" width="22" height="6.8" rx="2.5" fill="#fffdf5"/><rect x="54.5" y="45.5" width="27" height="7.5" rx="2.5" fill="#fffdf5"/><path d="M60,66 L68,60 L92,72 L92,100 L55,100 Z" fill="#3da41d"/></g><circle cx="50.5" cy="71.5" r="16.5" fill="#f3dc5a"/><path d="M38,78 Q50,66 64,70" stroke="#e2c23e" stroke-width="2.5" fill="none"/><path d="M27,80 Q40,96 58,92 Q46,90 36,80 Z" fill="#3da41d"/></svg><span class="t" style="left:161.60px;top:67.50px;font-size:73.11px;color:#0a0a0a;transform:scaleX(1.0170);font-weight:700;-webkit-text-stroke:3.20px #0a0a0a;">ADATBANK</span></div><div class="g" style="transform:translate(2161.46px,-161.68px) scale(1.04000)"><span class="t" style="left:26.00px;top:404.47px;font-size:72.68px;color:#333;transform:scaleX(0.8815);font-weight:700;">ZAMIRA AISAH TIARA</span><div class="r" style="left:26.00px;top:495.00px;width:4300.00px;height:2.00px;background:#8b8b95;"></div><span class="t" style="left:26.00px;top:549.33px;font-size:50.87px;color:#666;transform:scaleX(1.0326);">Játékos adatlap</span></div><div class="g" style="transform:translate(2160.85px,-163.95px) scale(1.04500)"><span class="t" style="left:470.00px;top:676.16px;font-size:39.97px;color:#a6a6ae;transform:scaleX(0.9848);">Név</span><span class="t" style="left:470.00px;top:749.66px;font-size:39.97px;color:#a6a6ae;transform:scaleX(1.0325);">Születési idő</span><span class="t" style="left:470.00px;top:824.16px;font-size:39.97px;color:#a6a6ae;transform:scaleX(0.9645);">Kor</span><span class="t" style="left:470.00px;top:897.16px;font-size:39.97px;color:#a6a6ae;transform:scaleX(1.0473);">Aktuális Klub</span><div class="r" style="left:811.00px;top:658.00px;width:400.50px;height:72.00px;background:#c6e3f9;"></div><span class="t" style="left:813.05px;top:675.86px;font-size:40.26px;color:#222;transform:scaleX(0.9735);-webkit-text-stroke:1.10px #222;">ZAMIRA AISAH TIARA</span><span class="t" style="left:813.05px;top:749.36px;font-size:40.26px;color:#222;transform:scaleX(1.0014);-webkit-text-stroke:1.10px #222;">1993.</span><span class="t" style="left:813.05px;top:823.86px;font-size:40.26px;color:#222;transform:scaleX(0.9579);-webkit-text-stroke:1.10px #222;">32</span><span class="t" style="left:813.05px;top:896.86px;font-size:40.26px;color:#222;transform:scaleX(0.9855);-webkit-text-stroke:1.10px #222;">Leányfalui SE (Labdarúgás)</span></div><svg class="a" style="left:2150px;top:520px" width="400" height="380" viewBox="0 0 1746 1659"><defs><filter id="bf" x="-40%" y="-40%" width="180%" height="180%"><feGaussianBlur stdDeviation="85"/></filter><filter id="bf2" x="-40%" y="-40%" width="180%" height="180%"><feGaussianBlur stdDeviation="70"/></filter></defs><g filter="url(#bf)"><ellipse cx="800" cy="760" rx="440" ry="510" fill="#6a5c5c"/><ellipse cx="640" cy="1200" rx="360" ry="200" fill="#6a5e5c"/><ellipse cx="340" cy="930" rx="140" ry="210" fill="#c4506a"/><ellipse cx="1040" cy="1330" rx="240" ry="110" fill="#e8889c"/></g><g filter="url(#bf2)"><ellipse cx="1225" cy="760" rx="90" ry="240" fill="#261c20"/><ellipse cx="800" cy="800" rx="320" ry="420" fill="#a9634a"/><ellipse cx="860" cy="500" rx="180" ry="110" fill="#c08a6c"/><ellipse cx="740" cy="760" rx="190" ry="230" fill="#b36a50"/><ellipse cx="1040" cy="1080" rx="200" ry="150" fill="#70140c"/><ellipse cx="640" cy="1140" rx="220" ry="120" fill="#7a4a34"/><ellipse cx="430" cy="970" rx="90" ry="130" fill="#8a3a40"/></g></svg><svg class="a" style="left:3850px;top:520px" width="270" height="310" viewBox="0 0 1445 1659"><defs><filter id="lb" x="-10%" y="-10%" width="120%" height="120%"><feGaussianBlur stdDeviation="5"/></filter><radialGradient id="lg" cx=".5" cy=".5" r=".5"><stop offset=".88" stop-color="#d01214"/><stop offset="1" stop-color="#a80c0e"/></radialGradient></defs><g filter="url(#lb)"><ellipse cx="707" cy="835" rx="516" ry="673" fill="url(#lg)"/><ellipse cx="707" cy="835" rx="476" ry="630" fill="#0b0909"/><ellipse cx="712" cy="900" rx="276" ry="505" fill="#e30f10"/><path d="M470,545 H915 Q1000,550 1005,640 Q1022,890 1005,1140 Q1000,1232 915,1238 H470 Q385,1232 380,1140 Q363,890 380,640 Q385,550 470,545 Z" fill="#fdfdfd" stroke="#0b0909" stroke-width="16"/><path d="M470,1275 Q700,1330 930,1275 Q860,1400 700,1405 Q540,1400 470,1275 Z" fill="#c60e10"/></g><g fill="none" stroke="#0b0909" stroke-width="62" stroke-linejoin="miter"><path d="M456,640 V1100 H590"/><path d="M790,740 Q790,590 700,590 Q610,590 610,740 Q610,850 700,900 Q800,960 800,1070 Q800,1200 700,1200 Q615,1200 605,1060"/><path d="M985,672 H862 V1100 H990 M862,880 H975"/></g><path id="lsearc" d="M345,585 Q400,425 650,392 Q880,378 990,525" fill="none"/><text font-family="Liberation Sans" font-style="italic" font-weight="400" font-size="80" fill="#c4c4c4" letter-spacing="-2"><textPath href="#lsearc" startOffset="1%" textLength="690" lengthAdjust="spacingAndGlyphs">Leányfalui S.E.</textPath></text></svg><div class="g" style="transform:translate(2162.00px,-162.03px) scale(1.04150)"><div class="r" style="left:24.00px;top:1126.00px;width:2033.00px;height:100.00px;background:#00b5d9;"></div><span class="t" style="left:62.00px;top:1147.04px;font-size:50.15px;color:#fff;transform:scaleX(0.8573);font-weight:700;">Karrier</span><svg class="a" style="left:679.00px;top:1254.00px" width="56.00" height="56.00" viewBox="-28 -28 56 56"><circle r="28" fill="#141414"/><circle r="22.8" fill="#fff"/><ellipse cx="-11.93" cy="16.42" rx="8.3" ry="7.4" transform="rotate(216.0 -11.93 16.42)" fill="#141414"/><ellipse cx="-19.31" cy="-6.27" rx="8.3" ry="7.4" transform="rotate(288.0 -19.31 -6.27)" fill="#141414"/><ellipse cx="-0.00" cy="-20.30" rx="8.3" ry="7.4" transform="rotate(360.0 -0.00 -20.30)" fill="#141414"/><ellipse cx="19.31" cy="-6.27" rx="8.3" ry="7.4" transform="rotate(432.0 19.31 -6.27)" fill="#141414"/><ellipse cx="11.93" cy="16.42" rx="8.3" ry="7.4" transform="rotate(504.0 11.93 16.42)" fill="#141414"/><circle r="6.6" fill="#141414"/></svg><svg class="a" style="left:888.00px;top:1254.00px" width="56.00" height="56.00" viewBox="-28 -28 56 56"><circle r="28" fill="#d9232d"/><circle r="22.8" fill="#fff"/><ellipse cx="-11.93" cy="16.42" rx="8.3" ry="7.4" transform="rotate(216.0 -11.93 16.42)" fill="#d9232d"/><ellipse cx="-19.31" cy="-6.27" rx="8.3" ry="7.4" transform="rotate(288.0 -19.31 -6.27)" fill="#d9232d"/><ellipse cx="-0.00" cy="-20.30" rx="8.3" ry="7.4" transform="rotate(360.0 -0.00 -20.30)" fill="#d9232d"/><ellipse cx="19.31" cy="-6.27" rx="8.3" ry="7.4" transform="rotate(432.0 19.31 -6.27)" fill="#d9232d"/><ellipse cx="11.93" cy="16.42" rx="8.3" ry="7.4" transform="rotate(504.0 11.93 16.42)" fill="#d9232d"/><circle r="6.6" fill="#d9232d"/></svg><svg class="a" style="left:1098.00px;top:1252.00px" width="49" height="59" viewBox="0 0 49 59"><path d="M3.2,3.2 H45.8 V50 M40,55.8 H3.2 V3.2" fill="none" stroke="#f6c414" stroke-width="6.2" stroke-linejoin="round" stroke-linecap="round"/><path d="M45.8,48 V52 L42,55.8 H38" fill="none" stroke="#f6c414" stroke-width="3.5" stroke-linecap="round" stroke-linejoin="round"/></svg><svg class="a" style="left:1305.50px;top:1252.00px" width="49" height="59" viewBox="0 0 49 59"><path d="M3.2,3.2 H45.8 V50 M40,55.8 H3.2 V3.2" fill="none" stroke="#d3222f" stroke-width="6.2" stroke-linejoin="round" stroke-linecap="round"/><path d="M45.8,48 V52 L42,55.8 H38" fill="none" stroke="#d3222f" stroke-width="3.5" stroke-linecap="round" stroke-linejoin="round"/></svg><svg class="a" style="left:1506.00px;top:1252.00px" width="68" height="62" viewBox="0 0 68 62"><path d="M12.5,58 V33 L3.5,19.5 Q10,8.5 22,5 Q34.5,0.5 47,5 Q58,8.5 64.5,19.5 L55,33 V49 Q55,52.5 51.5,53.5 M12.5,58.2 H46" fill="none" stroke="#151515" stroke-width="6.2" stroke-linejoin="round" stroke-linecap="round"/><path d="M24,23.5 L27,22 V34 M38.5,23.5 L41.5,22 V34" fill="none" stroke="#151515" stroke-width="4.2" stroke-linecap="round" stroke-linejoin="round"/></svg><svg class="a" style="left:1717.60px;top:1254.00px" width="56" height="58" viewBox="0 0 56 58"><path d="M7.6,1.5 Q7.6,0 9.1,0 H19.1 Q20.6,0 20.6,1.5 V38.5 H27.2 Q29.5,38.5 28,40.5 L15.4,56 Q14.2,57.4 13,56 L0.5,40.5 Q-1,38.5 1.3,38.5 H7.6 Z" fill="#d9202b"/><path d="M35.3,56.5 Q35.3,58 36.8,58 H46.8 Q48.3,58 48.3,56.5 V18.5 H54.5 Q56.8,18.5 55.3,16.6 L43,1.5 Q41.8,0 40.6,1.5 L28.3,16.6 Q26.8,18.5 29.1,18.5 H35.3 Z" fill="#36a632"/></svg><svg class="a" style="left:1917.80px;top:1268.50px" width="76" height="30" viewBox="0 0 76 30"><rect x="0" y="0" width="75.5" height="10" rx="5" fill="#111"/><rect x="8.5" y="3" width="8.6" height="26" rx="4.3" fill="#111"/><rect x="56" y="3" width="8.6" height="26" rx="4.3" fill="#111"/></svg><svg class="a" style="left:42.00px;top:1309.00px" width="420" height="420" viewBox="-210 -210 420 420"><g transform="rotate(-90)"><circle r="177.50" fill="none" stroke="#00b5d9" stroke-width="51" stroke-dasharray="476.228 639.038" stroke-dashoffset="0.000"/><circle r="177.50" fill="none" stroke="#e2001a" stroke-width="51" stroke-dasharray="197.412 917.854" stroke-dashoffset="-475.628"/><circle r="177.50" fill="none" stroke="#3f2a4a" stroke-width="51" stroke-dasharray="443.426 671.839" stroke-dashoffset="-672.439"/></g></svg><span class="t" style="left:217.50px;top:1470.54px;font-size:59.59px;color:#4a4a4a;transform:scaleX(1.0107);">68</span><span class="t" style="left:164.50px;top:1537.68px;font-size:41.72px;color:#c2c2c2;transform:scaleX(0.9678);">mérkőzés</span><span class="t" style="left:129.50px;top:1796.89px;font-size:38.52px;color:#1e1622;transform:scaleX(0.8475);font-weight:700;">Meccsek száma</span><div class="r" style="left:633.00px;top:1581.00px;width:145.50px;height:114.00px;background:#3f2a4a;border-radius:6px;"></div><div class="r" style="left:649.70px;top:1467.50px;width:112.00px;height:74.00px;background:#3f2a4a;"></div><svg class="a" style="left:686.70px;top:1540.50px" width="38" height="17" viewBox="0 0 38 17"><path d="M0,0 H38 L20.5,15.8 Q19,17 17.5,15.8 Z" fill="#3f2a4a"/></svg><span class="t" style="left:687.45px;top:1488.69px;font-size:33.43px;color:#fbeefd;transform:scaleX(0.9815);font-weight:700;">22</span><div class="r" style="left:693.20px;top:1706.80px;width:25px;height:25px;border-radius:50%;background:#2f2136"></div><span class="t" style="left:718.20px;top:1768.56px;font-size:32.99px;color:#383838;transform-origin:0 27.94px;transform:rotate(-90deg) scaleX(0.9056);">Gól</span><div class="r" style="left:867.50px;top:1585.00px;width:93.00px;height:74.00px;background:#3f2a4a;"></div><svg class="a" style="left:895.00px;top:1658.00px" width="38" height="17" viewBox="0 0 38 17"><path d="M0,0 H38 L20.5,15.8 Q19,17 17.5,15.8 Z" fill="#3f2a4a"/></svg><span class="t" style="left:904.25px;top:1606.19px;font-size:33.43px;color:#fbeefd;transform:scaleX(1.0488);font-weight:700;">0</span><div class="r" style="left:901.50px;top:1706.80px;width:25px;height:25px;border-radius:50%;background:#2f2136"></div><span class="t" style="left:926.50px;top:1804.06px;font-size:32.99px;color:#383838;transform-origin:0 27.94px;transform:rotate(-90deg) scaleX(0.9313);">Öngól</span><div class="r" style="left:1049.30px;top:1537.00px;width:145.50px;height:158.00px;background:#3f2a4a;border-radius:6px;"></div><div class="r" style="left:1066.00px;top:1427.00px;width:112.00px;height:74.00px;background:#3f2a4a;"></div><svg class="a" style="left:1103.00px;top:1500.00px" width="38" height="17" viewBox="0 0 38 17"><path d="M0,0 H38 L20.5,15.8 Q19,17 17.5,15.8 Z" fill="#3f2a4a"/></svg><span class="t" style="left:1103.75px;top:1448.19px;font-size:33.43px;color:#fbeefd;transform:scaleX(0.9815);font-weight:700;">10</span><div class="r" style="left:1109.50px;top:1706.80px;width:25px;height:25px;border-radius:50%;background:#2f2136"></div><span class="t" style="left:1134.50px;top:1802.76px;font-size:32.99px;color:#383838;transform-origin:0 27.94px;transform:rotate(-90deg) scaleX(0.9165);">Sárga</span><div class="r" style="left:1257.30px;top:1643.50px;width:145.50px;height:51.50px;background:#3f2a4a;border-radius:6px;"></div><div class="r" style="left:1283.50px;top:1533.50px;width:93.00px;height:74.00px;background:#3f2a4a;"></div><svg class="a" style="left:1311.00px;top:1606.50px" width="38" height="17" viewBox="0 0 38 17"><path d="M0,0 H38 L20.5,15.8 Q19,17 17.5,15.8 Z" fill="#3f2a4a"/></svg><span class="t" style="left:1320.25px;top:1554.69px;font-size:33.43px;color:#fbeefd;transform:scaleX(1.0488);font-weight:700;">1</span><div class="r" style="left:1317.50px;top:1706.80px;width:25px;height:25px;border-radius:50%;background:#2f2136"></div><span class="t" style="left:1342.50px;top:1792.06px;font-size:32.99px;color:#383838;transform-origin:0 27.94px;transform:rotate(-90deg) scaleX(0.9311);">Piros</span><div class="r" style="left:1465.00px;top:1541.00px;width:145.50px;height:154.00px;background:#3f2a4a;border-radius:6px;"></div><div class="r" style="left:1481.70px;top:1431.00px;width:112.00px;height:74.00px;background:#3f2a4a;"></div><svg class="a" style="left:1518.70px;top:1504.00px" width="38" height="17" viewBox="0 0 38 17"><path d="M0,0 H38 L20.5,15.8 Q19,17 17.5,15.8 Z" fill="#3f2a4a"/></svg><span class="t" style="left:1519.45px;top:1452.19px;font-size:33.43px;color:#fbeefd;transform:scaleX(0.9815);font-weight:700;">29</span><div class="r" style="left:1525.20px;top:1706.80px;width:25px;height:25px;border-radius:50%;background:#2f2136"></div><span class="t" style="left:1550.20px;top:1807.06px;font-size:32.99px;color:#383838;transform-origin:0 27.94px;transform:rotate(-90deg) scaleX(0.9085);">Kezdő</span><div class="r" style="left:1673.00px;top:1584.50px;width:145.50px;height:110.50px;background:#3f2a4a;border-radius:6px;"></div><div class="r" style="left:1689.70px;top:1474.50px;width:112.00px;height:74.00px;background:#3f2a4a;"></div><svg class="a" style="left:1726.70px;top:1547.50px" width="38" height="17" viewBox="0 0 38 17"><path d="M0,0 H38 L20.5,15.8 Q19,17 17.5,15.8 Z" fill="#3f2a4a"/></svg><span class="t" style="left:1727.45px;top:1495.69px;font-size:33.43px;color:#fbeefd;transform:scaleX(0.9815);font-weight:700;">12</span><div class="r" style="left:1733.20px;top:1706.80px;width:25px;height:25px;border-radius:50%;background:#2f2136"></div><span class="t" style="left:1758.20px;top:1875.06px;font-size:32.99px;color:#383838;transform-origin:0 27.94px;transform:rotate(-90deg) scaleX(0.9374);">Becserélés</span><div class="r" style="left:1880.80px;top:1447.00px;width:145.50px;height:248.00px;background:#3f2a4a;border-radius:6px;"></div><div class="r" style="left:1897.50px;top:1337.00px;width:112.00px;height:74.00px;background:#3f2a4a;"></div><svg class="a" style="left:1934.50px;top:1410.00px" width="38" height="17" viewBox="0 0 38 17"><path d="M0,0 H38 L20.5,15.8 Q19,17 17.5,15.8 Z" fill="#3f2a4a"/></svg><span class="t" style="left:1935.25px;top:1358.19px;font-size:33.43px;color:#fbeefd;transform:scaleX(0.9815);font-weight:700;">27</span><div class="r" style="left:1941.00px;top:1706.80px;width:25px;height:25px;border-radius:50%;background:#2f2136"></div><span class="t" style="left:1966.00px;top:1814.06px;font-size:32.99px;color:#383838;transform-origin:0 27.94px;transform:rotate(-90deg) scaleX(0.9119);">Kispad</span></div><div class="g" style="transform:translate(2162.00px,-162.24px) scale(1.04150)"><div class="r" style="left:24.00px;top:2066.00px;width:2033.00px;height:100.00px;background:#cf0a1f;"></div><span class="t" style="left:61.00px;top:2087.89px;font-size:47.97px;color:#fff;transform:scaleX(0.9023);font-weight:700;">Szezon bontás</span><div class="r" style="left:24.00px;top:2171.80px;width:6.50px;height:57.00px;background:#b7303c;"></div><span class="t" style="left:61.75px;top:2179.74px;font-size:42.88px;color:#2b2233;transform:scaleX(0.9448);-webkit-text-stroke:1.50px #2b2233;">2024/2025 - Leányfalui SE</span><span class="t" style="left:855.50px;top:2186.22px;font-size:37.06px;color:#333;transform:scaleX(0.8173);">Összes</span><span class="t" style="left:997.50px;top:2186.22px;font-size:37.06px;color:#333;transform:scaleX(0.8373);">Kezdő</span><span class="t" style="left:1136.00px;top:2186.22px;font-size:37.06px;color:#333;transform:scaleX(0.8293);">Csere</span><span class="t" style="left:1264.00px;top:2186.22px;font-size:37.06px;color:#333;transform:scaleX(0.8471);">Kispad</span><span class="t" style="left:1424.50px;top:2186.22px;font-size:37.06px;color:#333;transform:scaleX(0.8149);">Gól</span><span class="t" style="left:1540.00px;top:2186.22px;font-size:37.06px;color:#333;transform:scaleX(0.8695);">Öngól</span><span class="t" style="left:1677.00px;top:2186.22px;font-size:37.06px;color:#333;transform:scaleX(0.8493);">Sárga</span><span class="t" style="left:1818.00px;top:2186.22px;font-size:37.06px;color:#333;transform:scaleX(0.8526);">Piros</span><div class="r" style="left:24.00px;top:2235.80px;width:2027.00px;height:2.00px;background:#ececee;"></div><span class="t" style="left:896.75px;top:2261.80px;font-size:37.79px;color:#3a3a3a;transform:scaleX(0.8800);">1</span><span class="t" style="left:1032.25px;top:2261.80px;font-size:37.79px;color:#3a3a3a;transform:scaleX(0.8800);">1</span><span class="t" style="left:1167.75px;top:2261.80px;font-size:37.79px;color:#3a3a3a;transform:scaleX(0.8800);">0</span><span class="t" style="left:1302.75px;top:2261.80px;font-size:37.79px;color:#3a3a3a;transform:scaleX(0.8800);">0</span><span class="t" style="left:1438.75px;top:2261.80px;font-size:37.79px;color:#3a3a3a;transform:scaleX(0.8800);">2</span><span class="t" style="left:1573.75px;top:2261.80px;font-size:37.79px;color:#3a3a3a;transform:scaleX(0.8800);">0</span><span class="t" style="left:1709.75px;top:2261.80px;font-size:37.79px;color:#3a3a3a;transform:scaleX(0.8800);">0</span><span class="t" style="left:1844.75px;top:2261.80px;font-size:37.79px;color:#3a3a3a;transform:scaleX(0.8800);">0</span><svg class="a" style="left:1970.00px;top:2265.30px" width="39.50" height="24.00" viewBox="0 0 39.50 24.00"><path d="M3.10,3.10 L19.75,20.90 L36.40,3.10" fill="none" stroke="#1a1a1a" stroke-width="6.20" stroke-linecap="round" stroke-linejoin="round"/></svg><div class="r" style="left:24.00px;top:2393.00px;width:6.50px;height:57.00px;background:#b7303c;"></div><span class="t" style="left:61.75px;top:2400.94px;font-size:42.88px;color:#2b2233;transform:scaleX(0.9448);-webkit-text-stroke:1.50px #2b2233;">2023/2024 - Leányfalui SE</span><span class="t" style="left:855.50px;top:2407.42px;font-size:37.06px;color:#333;transform:scaleX(0.8173);">Összes</span><span class="t" style="left:997.50px;top:2407.42px;font-size:37.06px;color:#333;transform:scaleX(0.8373);">Kezdő</span><span class="t" style="left:1136.00px;top:2407.42px;font-size:37.06px;color:#333;transform:scaleX(0.8293);">Csere</span><span class="t" style="left:1264.00px;top:2407.42px;font-size:37.06px;color:#333;transform:scaleX(0.8471);">Kispad</span><span class="t" style="left:1424.50px;top:2407.42px;font-size:37.06px;color:#333;transform:scaleX(0.8149);">Gól</span><span class="t" style="left:1540.00px;top:2407.42px;font-size:37.06px;color:#333;transform:scaleX(0.8695);">Öngól</span><span class="t" style="left:1677.00px;top:2407.42px;font-size:37.06px;color:#333;transform:scaleX(0.8493);">Sárga</span><span class="t" style="left:1818.00px;top:2407.42px;font-size:37.06px;color:#333;transform:scaleX(0.8526);">Piros</span><div class="r" style="left:24.00px;top:2457.00px;width:2027.00px;height:2.00px;background:#ececee;"></div><span class="t" style="left:896.75px;top:2483.00px;font-size:37.79px;color:#3a3a3a;transform:scaleX(0.8800);">1</span><span class="t" style="left:1032.25px;top:2483.00px;font-size:37.79px;color:#3a3a3a;transform:scaleX(0.8800);">0</span><span class="t" style="left:1167.75px;top:2483.00px;font-size:37.79px;color:#3a3a3a;transform:scaleX(0.8800);">1</span><span class="t" style="left:1302.75px;top:2483.00px;font-size:37.79px;color:#3a3a3a;transform:scaleX(0.8800);">0</span><span class="t" style="left:1438.75px;top:2483.00px;font-size:37.79px;color:#3a3a3a;transform:scaleX(0.8800);">0</span><span class="t" style="left:1573.75px;top:2483.00px;font-size:37.79px;color:#3a3a3a;transform:scaleX(0.8800);">0</span><span class="t" style="left:1709.75px;top:2483.00px;font-size:37.79px;color:#3a3a3a;transform:scaleX(0.8800);">0</span><span class="t" style="left:1844.75px;top:2483.00px;font-size:37.79px;color:#3a3a3a;transform:scaleX(0.8800);">0</span><svg class="a" style="left:1970.00px;top:2486.50px" width="39.50" height="24.00" viewBox="0 0 39.50 24.00"><path d="M3.10,3.10 L19.75,20.90 L36.40,3.10" fill="none" stroke="#1a1a1a" stroke-width="6.20" stroke-linecap="round" stroke-linejoin="round"/></svg><div class="r" style="left:24.00px;top:2617.50px;width:6.50px;height:105.00px;background:#b7303c;"></div><span class="t" style="left:61.75px;top:2616.74px;font-size:42.88px;color:#2b2233;transform:scaleX(0.8814);-webkit-text-stroke:1.50px #2b2233;">2014/2015 - VERESEGYHÁZ VSK, UTE</span><span class="t" style="left:61.75px;top:2675.44px;font-size:42.88px;color:#2b2233;transform:scaleX(0.8337);-webkit-text-stroke:1.50px #2b2233;">PROFISPORT KFT.</span><span class="t" style="left:855.50px;top:2677.92px;font-size:37.06px;color:#333;transform:scaleX(0.8173);">Összes</span><span class="t" style="left:997.50px;top:2677.92px;font-size:37.06px;color:#333;transform:scaleX(0.8373);">Kezdő</span><span class="t" style="left:1136.00px;top:2677.92px;font-size:37.06px;color:#333;transform:scaleX(0.8293);">Csere</span><span class="t" style="left:1264.00px;top:2677.92px;font-size:37.06px;color:#333;transform:scaleX(0.8471);">Kispad</span><span class="t" style="left:1424.50px;top:2677.92px;font-size:37.06px;color:#333;transform:scaleX(0.8149);">Gól</span><span class="t" style="left:1540.00px;top:2677.92px;font-size:37.06px;color:#333;transform:scaleX(0.8695);">Öngól</span><span class="t" style="left:1677.00px;top:2677.92px;font-size:37.06px;color:#333;transform:scaleX(0.8493);">Sárga</span><span class="t" style="left:1818.00px;top:2677.92px;font-size:37.06px;color:#333;transform:scaleX(0.8526);">Piros</span><div class="r" style="left:24.00px;top:2727.00px;width:2027.00px;height:2.00px;background:#ececee;"></div><span class="t" style="left:896.75px;top:2753.00px;font-size:37.79px;color:#3a3a3a;transform:scaleX(0.8800);">3</span><span class="t" style="left:1032.25px;top:2753.00px;font-size:37.79px;color:#3a3a3a;transform:scaleX(0.8800);">0</span><span class="t" style="left:1167.75px;top:2753.00px;font-size:37.79px;color:#3a3a3a;transform:scaleX(0.8800);">1</span><span class="t" style="left:1302.75px;top:2753.00px;font-size:37.79px;color:#3a3a3a;transform:scaleX(0.8800);">2</span><span class="t" style="left:1438.75px;top:2753.00px;font-size:37.79px;color:#3a3a3a;transform:scaleX(0.8800);">0</span><span class="t" style="left:1573.75px;top:2753.00px;font-size:37.79px;color:#3a3a3a;transform:scaleX(0.8800);">0</span><span class="t" style="left:1709.75px;top:2753.00px;font-size:37.79px;color:#3a3a3a;transform:scaleX(0.8800);">0</span><span class="t" style="left:1844.75px;top:2753.00px;font-size:37.79px;color:#3a3a3a;transform:scaleX(0.8800);">0</span><svg class="a" style="left:1970.00px;top:2756.50px" width="39.50" height="24.00" viewBox="0 0 39.50 24.00"><path d="M3.10,3.10 L19.75,20.90 L36.40,3.10" fill="none" stroke="#1a1a1a" stroke-width="6.20" stroke-linecap="round" stroke-linejoin="round"/></svg><div class="r" style="left:24.00px;top:2882.50px;width:6.50px;height:57.00px;background:#b7303c;"></div><span class="t" style="left:61.75px;top:2890.44px;font-size:42.88px;color:#2b2233;transform:scaleX(0.8981);-webkit-text-stroke:1.50px #2b2233;">2013/2014 - DUNAKESZI KINIZSI FUTSAL</span><span class="t" style="left:855.50px;top:2896.92px;font-size:37.06px;color:#333;transform:scaleX(0.8173);">Összes</span><span class="t" style="left:997.50px;top:2896.92px;font-size:37.06px;color:#333;transform:scaleX(0.8373);">Kezdő</span><span class="t" style="left:1136.00px;top:2896.92px;font-size:37.06px;color:#333;transform:scaleX(0.8293);">Csere</span><span class="t" style="left:1264.00px;top:2896.92px;font-size:37.06px;color:#333;transform:scaleX(0.8471);">Kispad</span><span class="t" style="left:1424.50px;top:2896.92px;font-size:37.06px;color:#333;transform:scaleX(0.8149);">Gól</span><span class="t" style="left:1540.00px;top:2896.92px;font-size:37.06px;color:#333;transform:scaleX(0.8695);">Öngól</span><span class="t" style="left:1677.00px;top:2896.92px;font-size:37.06px;color:#333;transform:scaleX(0.8493);">Sárga</span><span class="t" style="left:1818.00px;top:2896.92px;font-size:37.06px;color:#333;transform:scaleX(0.8526);">Piros</span><div class="r" style="left:24.00px;top:2946.50px;width:2027.00px;height:2.00px;background:#ececee;"></div><span class="t" style="left:896.75px;top:2972.50px;font-size:37.79px;color:#3a3a3a;transform:scaleX(0.8800);">7</span><span class="t" style="left:1032.25px;top:2972.50px;font-size:37.79px;color:#3a3a3a;transform:scaleX(0.8800);">0</span><span class="t" style="left:1167.75px;top:2972.50px;font-size:37.79px;color:#3a3a3a;transform:scaleX(0.8800);">0</span><span class="t" style="left:1302.75px;top:2972.50px;font-size:37.79px;color:#3a3a3a;transform:scaleX(0.8800);">7</span><span class="t" style="left:1438.75px;top:2972.50px;font-size:37.79px;color:#3a3a3a;transform:scaleX(0.8800);">0</span><span class="t" style="left:1573.75px;top:2972.50px;font-size:37.79px;color:#3a3a3a;transform:scaleX(0.8800);">0</span><span class="t" style="left:1709.75px;top:2972.50px;font-size:37.79px;color:#3a3a3a;transform:scaleX(0.8800);">0</span><span class="t" style="left:1844.75px;top:2972.50px;font-size:37.79px;color:#3a3a3a;transform:scaleX(0.8800);">0</span><svg class="a" style="left:1970.00px;top:2976.00px" width="39.50" height="24.00" viewBox="0 0 39.50 24.00"><path d="M3.10,3.10 L19.75,20.90 L36.40,3.10" fill="none" stroke="#1a1a1a" stroke-width="6.20" stroke-linecap="round" stroke-linejoin="round"/></svg><div class="r" style="left:24.00px;top:3103.70px;width:6.50px;height:57.00px;background:#b7303c;"></div><span class="t" style="left:61.75px;top:3111.64px;font-size:42.88px;color:#2b2233;transform:scaleX(0.9268);-webkit-text-stroke:1.50px #2b2233;">2012/2013 - 1. FC FEMINA</span><span class="t" style="left:855.50px;top:3118.12px;font-size:37.06px;color:#333;transform:scaleX(0.8173);">Összes</span><span class="t" style="left:997.50px;top:3118.12px;font-size:37.06px;color:#333;transform:scaleX(0.8373);">Kezdő</span><span class="t" style="left:1136.00px;top:3118.12px;font-size:37.06px;color:#333;transform:scaleX(0.8293);">Csere</span><span class="t" style="left:1264.00px;top:3118.12px;font-size:37.06px;color:#333;transform:scaleX(0.8471);">Kispad</span><span class="t" style="left:1424.50px;top:3118.12px;font-size:37.06px;color:#333;transform:scaleX(0.8149);">Gól</span><span class="t" style="left:1540.00px;top:3118.12px;font-size:37.06px;color:#333;transform:scaleX(0.8695);">Öngól</span><span class="t" style="left:1677.00px;top:3118.12px;font-size:37.06px;color:#333;transform:scaleX(0.8493);">Sárga</span><span class="t" style="left:1818.00px;top:3118.12px;font-size:37.06px;color:#333;transform:scaleX(0.8526);">Piros</span><div class="r" style="left:24.00px;top:3167.70px;width:2027.00px;height:2.00px;background:#ececee;"></div><span class="t" style="left:887.50px;top:3193.70px;font-size:37.79px;color:#3a3a3a;transform:scaleX(0.8800);">19</span><span class="t" style="left:1032.25px;top:3193.70px;font-size:37.79px;color:#3a3a3a;transform:scaleX(0.8800);">6</span><span class="t" style="left:1167.75px;top:3193.70px;font-size:37.79px;color:#3a3a3a;transform:scaleX(0.8800);">9</span><span class="t" style="left:1302.75px;top:3193.70px;font-size:37.79px;color:#3a3a3a;transform:scaleX(0.8800);">4</span><span class="t" style="left:1438.75px;top:3193.70px;font-size:37.79px;color:#3a3a3a;transform:scaleX(0.8800);">3</span><span class="t" style="left:1573.75px;top:3193.70px;font-size:37.79px;color:#3a3a3a;transform:scaleX(0.8800);">0</span><span class="t" style="left:1709.75px;top:3193.70px;font-size:37.79px;color:#3a3a3a;transform:scaleX(0.8800);">4</span><span class="t" style="left:1844.75px;top:3193.70px;font-size:37.79px;color:#3a3a3a;transform:scaleX(0.8800);">0</span><svg class="a" style="left:1970.00px;top:3197.20px" width="39.50" height="24.00" viewBox="0 0 39.50 24.00"><path d="M3.10,3.10 L19.75,20.90 L36.40,3.10" fill="none" stroke="#1a1a1a" stroke-width="6.20" stroke-linecap="round" stroke-linejoin="round"/></svg></div>
<div class="r" style="left:2144px;top:2765.7px;width:898.5px;height:238px;box-sizing:border-box;border:24px solid #ff0000;border-left-width:25px"></div>
</body></html>
